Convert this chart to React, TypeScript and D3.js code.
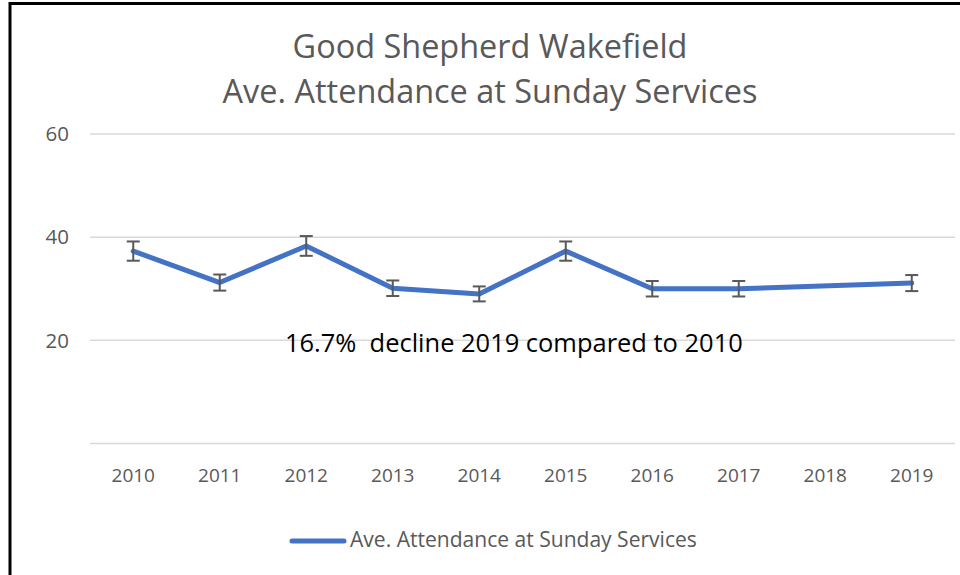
import React, { useEffect, useRef } from 'react';
import * as d3 from 'd3';

// chart data
const years = ['2010', '2011', '2012', '2013', '2014', '2015', '2016', '2017', '2018', '2019'];
const attendance: (number | null)[] = [37.3, 31.2, 38.3, 30.1, 29, 37.3, 30, 30, null, 31.1];
const yTicks = [0, 20, 40, 60];
const titleLines = ['Good Shepherd Wakefield', 'Ave. Attendance at Sunday Services'];
const seriesName = 'Ave. Attendance at Sunday Services';
const note = '16.7%  decline 2019 compared to 2010';
const errorPct = 0.05;

const W = 960;
const H = 575;
const FONT = "'Open Sans', sans-serif";
const GREY = '#595959';
const BLUE = '#4472C4';

// scale font-size so the text gets the wanted width
const fitWidth = (sel: any, width: number) => {
  const len = sel.node().getComputedTextLength();
  const fs = parseFloat(sel.attr('font-size'));
  if (len > 0) sel.attr('font-size', (fs * width) / len);
};

export default function App() {
  const ref = useRef<SVGSVGElement>(null);

  useEffect(() => {
    const svg = d3.select(ref.current);
    svg.selectAll('*').remove();

    svg.append('rect').attr('width', W).attr('height', H).attr('fill', '#fff');

    // frame (top and left edges only visible)
    svg.append('line').attr('x1', 10).attr('x2', W).attr('y1', 3.5).attr('y2', 3.5)
      .attr('stroke', '#000').attr('stroke-width', 3);
    svg.append('line').attr('x1', 10).attr('x2', 10).attr('y1', 2).attr('y2', H)
      .attr('stroke', '#000').attr('stroke-width', 3);

    const x = d3.scaleBand().domain(years).range([90, 955]);
    const cx = (d: string) => (x(d) as number) + x.bandwidth() / 2;
    const y = d3.scaleLinear().domain([0, 60]).range([443.5, 134]);

    // title
    titleLines.forEach((t, i) => {
      const txt = svg.append('text')
        .attr('x', 490).attr('y', 58 + i * 45)
        .attr('text-anchor', 'middle')
        .attr('font-family', FONT).attr('font-size', 26)
        .attr('fill', GREY).text(t);
      fitWidth(txt, i === 0 ? 395 : 535);
    });

    // gridlines
    svg.append('g').selectAll('line').data(yTicks).join('line')
      .attr('x1', 90).attr('x2', 955)
      .attr('y1', d => y(d)).attr('y2', d => y(d))
      .attr('stroke', '#d9d9d9').attr('stroke-width', 1.5);

    // y labels (0 not shown)
    svg.append('g').selectAll('text').data(yTicks.filter(d => d > 0)).join('text')
      .attr('x', 69).attr('y', d => y(d)).attr('dy', '0.35em')
      .attr('text-anchor', 'end')
      .attr('font-family', FONT).attr('font-size', 20.5)
      .attr('fill', GREY).text(d => d);

    // x labels
    svg.append('g').selectAll('text').data(years).join('text')
      .attr('x', d => cx(d)).attr('y', 482)
      .attr('text-anchor', 'middle')
      .attr('font-family', FONT).attr('font-size', 19)
      .attr('fill', GREY).text(d => d);

    const pts = years
      .map((yr, i) => ({ yr, v: attendance[i] }))
      .filter(d => d.v != null) as { yr: string; v: number }[];

    const line = d3.line<{ yr: string; v: number }>()
      .x(d => cx(d.yr))
      .y(d => y(d.v));

    svg.append('path').datum(pts)
      .attr('d', line)
      .attr('fill', 'none')
      .attr('stroke', BLUE).attr('stroke-width', 5)
      .attr('stroke-linejoin', 'round').attr('stroke-linecap', 'round');

    // error bars
    const eb = svg.append('g').attr('stroke', GREY).attr('stroke-width', 2).attr('fill', 'none');
    pts.forEach(d => {
      const top = y(d.v * (1 + errorPct));
      const bot = y(d.v * (1 - errorPct));
      const c = cx(d.yr);
      eb.append('line').attr('x1', c).attr('x2', c).attr('y1', top).attr('y2', bot);
      eb.append('line').attr('x1', c - 6.5).attr('x2', c + 6.5).attr('y1', top).attr('y2', top);
      eb.append('line').attr('x1', c - 6.5).attr('x2', c + 6.5).attr('y1', bot).attr('y2', bot);
    });

    // annotation
    const noteTxt = svg.append('text')
      .attr('x', 285).attr('y', 352)
      .attr('font-family', FONT).attr('font-size', 24)
      .attr('fill', '#000')
      .style('white-space', 'pre')
      .text(note);
    fitWidth(noteTxt, 458);

    // legend
    svg.append('line').attr('x1', 292).attr('x2', 344).attr('y1', 541).attr('y2', 541)
      .attr('stroke', BLUE).attr('stroke-width', 5).attr('stroke-linecap', 'round');
    const legTxt = svg.append('text')
      .attr('x', 350).attr('y', 547)
      .attr('font-family', FONT).attr('font-size', 17)
      .attr('fill', GREY).text(seriesName);
    fitWidth(legTxt, 347);
  }, []);

  return (
    <svg ref={ref} width={W} height={H}
      style={{ position: 'absolute', left: 0, top: 0, display: 'block' }} />
  );
}
